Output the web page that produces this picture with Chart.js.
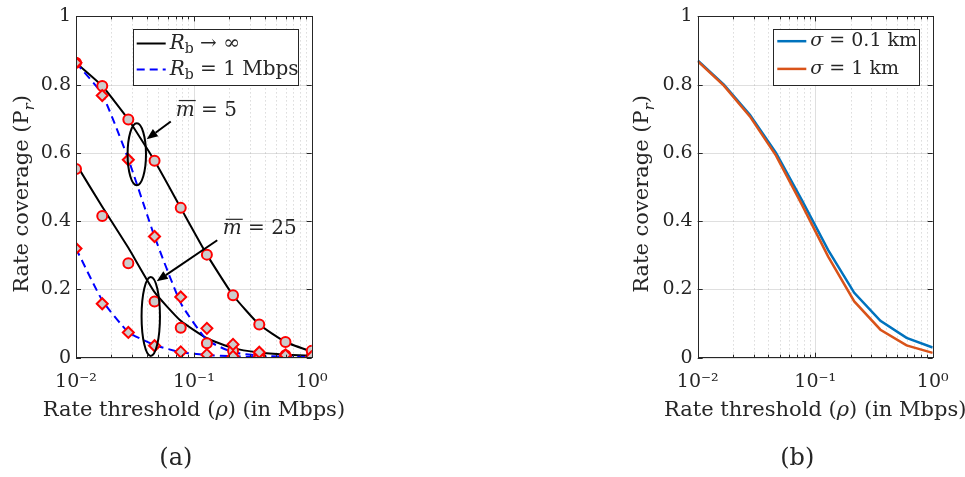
<!DOCTYPE html>
<html>
<head>
<meta charset="utf-8">
<script src="https://cdn.jsdelivr.net/npm/chart.js@4.4.0/dist/chart.umd.min.js"></script>
<style>
  body { margin: 0; background: #fff; }
  #wrap { position: relative; width: 965px; height: 477px; }
  canvas { position: absolute; top: 0; }
</style>
</head>
<body>
<div id="wrap">
  <canvas id="chartA" width="345" height="477" style="left:0"></canvas>
  <canvas id="chartB" width="345" height="477" style="left:620px"></canvas>
</div>
<script>
// rate thresholds (Mbps), same grid for both panels
var rates = [0.01, 0.0167, 0.0278, 0.0464, 0.0774, 0.129, 0.215, 0.359, 0.599, 1]

// (a) analysis curves
var anaInf5  = [0.864, 0.796, 0.698, 0.577, 0.439, 0.302, 0.183, 0.097, 0.046, 0.018]
var anaInf25 = [0.568, 0.442, 0.322, 0.192, 0.108, 0.057, 0.028, 0.015, 0.009, 0.006]
var ana1M5   = [0.864, 0.772, 0.582, 0.355, 0.160, 0.052, 0.016, 0.006, 0.003, 0.002]
var ana1M25  = [0.320, 0.168, 0.075, 0.037, 0.016, 0.008, 0.004, 0.002, 0.001, 0.001]
// (a) simulation markers
var simInf5  = [0.864, 0.796, 0.698, 0.577, 0.439, 0.302, 0.183, 0.097, 0.046, 0.020]
var simInf25 = [0.553, 0.415, 0.277, 0.165, 0.088, 0.042, 0.020, 0.011, 0.007, 0.004]
var sim1M5   = [0.864, 0.768, 0.580, 0.355, 0.178, 0.086, 0.039, 0.016, 0.008, 0.003]
var sim1M25  = [0.320, 0.158, 0.074, 0.035, 0.017, 0.009, 0.004, 0.002, 0.001, 0.001]

// (b)
var sigma01 = [0.871, 0.800, 0.712, 0.600, 0.460, 0.315, 0.190, 0.108, 0.058, 0.030]
var sigma1  = [0.869, 0.797, 0.707, 0.592, 0.447, 0.296, 0.165, 0.082, 0.036, 0.014]

// ticks
var xTickValues = [0.01, 0.1, 1]
var xTickLabels = ['10\u207B\u00B2', '10\u207B\u00B9', '10\u2070']
var yTickValues = [0, 0.2, 0.4, 0.6, 0.8, 1]
var yTickLabels = ['0', '0.2', '0.4', '0.6', '0.8', '1']

var FONT = '"DejaVu Serif", serif'
var INK = '#262626'
var RED = '#ff0000'
var GREY = '#cccccc'

function font(size, italic) {
  return (italic ? 'italic ' : '') + size + 'px ' + FONT
}

function pts(vals) {
  return rates.map(function(r, i) { return { x: r, y: vals[i] } })
}

// draw text made of runs {t, it, sub}
function drawRuns(ctx, runs, x, y, size, align) {
  var w = 0
  runs.forEach(function(r) {
    ctx.font = font(r.sub ? size * 0.7 : size, r.it)
    r.w = ctx.measureText(r.t).width
    w += r.w
  })
  var cx = align === 'center' ? x - w / 2 : x
  ctx.textAlign = 'left'
  runs.forEach(function(r) {
    ctx.font = font(r.sub ? size * 0.7 : size, r.it)
    ctx.fillText(r.t, cx, y + (r.sub ? size * 0.3 : 0))
    cx += r.w
  })
  return w
}

var minorX = []
for (var e = -2; e < 0; e++) {
  for (var k = 2; k <= 9; k++) minorX.push(k * Math.pow(10, e))
}

function line(ctx, x1, y1, x2, y2) {
  ctx.beginPath()
  ctx.moveTo(x1, y1)
  ctx.lineTo(x2, y2)
  ctx.stroke()
}

var framePlugin = {
  id: 'frame',
  beforeDatasetsDraw: function(chart) {
    var ctx = chart.ctx, a = chart.chartArea, x = chart.scales.x, y = chart.scales.y
    ctx.save()
    ctx.lineWidth = 1
    ctx.strokeStyle = 'rgba(38,38,38,0.25)'
    ctx.setLineDash([1, 3])
    minorX.forEach(function(v) {
      var px = Math.round(x.getPixelForValue(v)) + 0.5
      line(ctx, px, a.top, px, a.bottom)
    })
    ctx.setLineDash([])
    ctx.strokeStyle = 'rgba(38,38,38,0.15)'
    xTickValues.forEach(function(v) {
      var px = Math.round(x.getPixelForValue(v)) + 0.5
      line(ctx, px, a.top, px, a.bottom)
    })
    yTickValues.forEach(function(v) {
      var py = Math.round(y.getPixelForValue(v)) + 0.5
      line(ctx, a.left, py, a.right, py)
    })
    ctx.restore()
  },
  afterDraw: function(chart) {
    var ctx = chart.ctx, a = chart.chartArea, x = chart.scales.x, y = chart.scales.y
    ctx.save()
    ctx.strokeStyle = INK
    ctx.lineWidth = 1
    // tick marks inside the box
    xTickValues.forEach(function(v) {
      var px = Math.round(x.getPixelForValue(v)) + 0.5
      line(ctx, px, a.bottom, px, a.bottom - 5)
      line(ctx, px, a.top, px, a.top + 5)
    })
    minorX.forEach(function(v) {
      var px = Math.round(x.getPixelForValue(v)) + 0.5
      line(ctx, px, a.bottom, px, a.bottom - 3)
      line(ctx, px, a.top, px, a.top + 3)
    })
    yTickValues.forEach(function(v) {
      var py = Math.round(y.getPixelForValue(v)) + 0.5
      line(ctx, a.left, py, a.left + 5, py)
      line(ctx, a.right, py, a.right - 5, py)
    })
    ctx.strokeRect(Math.round(a.left) + 0.5, Math.round(a.top) + 0.5,
      Math.round(a.right - a.left), Math.round(a.bottom - a.top))

    // axis titles
    ctx.fillStyle = INK
    ctx.textBaseline = 'alphabetic'
    drawRuns(ctx, [{ t: 'Rate threshold (' }, { t: '\u03C1', it: true }, { t: ') (in Mbps)' }],
      (a.left + a.right) / 2, 416, 21, 'center')
    ctx.save()
    ctx.translate(28, 194)
    ctx.rotate(-Math.PI / 2)
    drawRuns(ctx, [{ t: 'Rate coverage (P' }, { t: 'r', it: true, sub: true }, { t: ')' }], 0, 0, 21, 'center')
    ctx.restore()
    // panel label
    ctx.font = font(24)
    ctx.textAlign = 'center'
    ctx.fillText(chart.options.panel, (a.left + a.right) / 2 - 18, 465)
    ctx.restore()
  }
}

// legend boxes
function legendPlugin(entries, box) {
  return {
    id: 'legendBox',
    afterDraw: function(chart) {
      var ctx = chart.ctx, a = chart.chartArea
      var right = a.right - box.gapRight, top = a.top + box.gapTop
      var left = right - box.w
      ctx.save()
      ctx.fillStyle = '#fff'
      ctx.fillRect(left, top, box.w, box.h)
      ctx.strokeStyle = INK
      ctx.lineWidth = 1
      ctx.strokeRect(Math.round(left) + 0.5, Math.round(top) + 0.5, Math.round(box.w), Math.round(box.h))
      entries.forEach(function(en, i) {
        var cy = top + box.row0 + i * box.rowStep
        ctx.strokeStyle = en.color
        ctx.lineWidth = en.width || 2
        ctx.setLineDash(en.dash || [])
        line(ctx, left + 4, cy, left + 33, cy)
        ctx.setLineDash([])
        ctx.fillStyle = INK
        ctx.textBaseline = 'middle'
        drawRuns(ctx, en.runs, left + 37, cy, box.size, 'left')
      })
      ctx.restore()
    }
  }
}

// (a) annotations, placed in data coordinates
var ellipses = [
  { x: 0.0328, y: 0.596, rx: 9.2, ry: 31 },
  { x: 0.0431, y: 0.121, rx: 9.2, ry: 39.5 }
]
var arrows = [
  { x1: 0.0637, y1: 0.692, x2: 0.0398, y2: 0.640 },
  { x1: 0.158, y1: 0.344, x2: 0.0484, y2: 0.224 }
]
var notes = [
  { x: 0.0702, y: 0.730, m: '5' },
  { x: 0.176, y: 0.382, m: '25' }
]

var notesPlugin = {
  id: 'notes',
  afterDatasetsDraw: function(chart) {
    var ctx = chart.ctx, x = chart.scales.x, y = chart.scales.y
    ctx.save()
    ctx.strokeStyle = '#000'
    ctx.fillStyle = '#000'
    ctx.lineWidth = 2
    ellipses.forEach(function(el) {
      ctx.beginPath()
      ctx.ellipse(x.getPixelForValue(el.x), y.getPixelForValue(el.y), el.rx, el.ry, 0, 0, Math.PI * 2)
      ctx.stroke()
    })
    arrows.forEach(function(ar) {
      var x1 = x.getPixelForValue(ar.x1), y1 = y.getPixelForValue(ar.y1)
      var x2 = x.getPixelForValue(ar.x2), y2 = y.getPixelForValue(ar.y2)
      var ang = Math.atan2(y2 - y1, x2 - x1)
      var hl = 11, hw = 4.5
      var bx = x2 - hl * Math.cos(ang), by = y2 - hl * Math.sin(ang)
      line(ctx, x1, y1, bx, by)
      ctx.beginPath()
      ctx.moveTo(x2, y2)
      ctx.lineTo(bx + hw * Math.sin(ang), by - hw * Math.cos(ang))
      ctx.lineTo(bx - hw * Math.sin(ang), by + hw * Math.cos(ang))
      ctx.closePath()
      ctx.fill()
    })
    ctx.fillStyle = INK
    ctx.textBaseline = 'alphabetic'
    notes.forEach(function(n) {
      var px = x.getPixelForValue(n.x), base = y.getPixelForValue(n.y) + 7
      ctx.font = font(20, true)
      var mw = ctx.measureText('m').width
      drawRuns(ctx, [{ t: 'm', it: true }, { t: ' = ' + n.m }], px, base, 20, 'left')
      ctx.lineWidth = 1.2
      ctx.strokeStyle = INK
      line(ctx, px + 3, base - 15, px + mw + 1, base - 15)
    })
    ctx.restore()
  }
}

function xScale() {
  return {
    type: 'logarithmic',
    min: 0.01,
    max: 1,
    grid: { display: false, drawTicks: false },
    border: { display: false },
    afterBuildTicks: function(s) { s.ticks = xTickValues.map(function(v) { return { value: v } }) },
    afterFit: function(s) { s.height = 119.3 },
    ticks: {
      autoSkip: false,
      maxRotation: 0,
      padding: 13,
      color: INK,
      font: { family: FONT, size: 19 },
      callback: function(v, i) { return xTickLabels[i] }
    }
  }
}

function yScale(width) {
  return {
    type: 'linear',
    min: 0,
    max: 1,
    grid: { display: false, drawTicks: false },
    border: { display: false },
    afterBuildTicks: function(s) { s.ticks = yTickValues.map(function(v) { return { value: v } }) },
    afterFit: function(s) { s.width = width },
    ticks: {
      padding: 5,
      color: INK,
      font: { family: FONT, size: 19 },
      callback: function(v, i) { return yTickLabels[i] }
    }
  }
}

function markerSet(vals, style, radius) {
  return {
    data: pts(vals),
    showLine: false,
    pointStyle: style,
    pointRadius: radius,
    pointBorderWidth: 2,
    pointBorderColor: RED,
    pointBackgroundColor: GREY
  }
}

function curveSet(vals, color, dash) {
  return {
    data: pts(vals),
    borderColor: color,
    borderWidth: 2,
    borderDash: dash || [],
    pointRadius: 0,
    tension: 0.15,
    fill: false
  }
}

Chart.defaults.font.family = FONT

new Chart(document.getElementById('chartA'), {
  type: 'line',
  data: {
    datasets: [
      markerSet(sim1M5, 'rectRot', 5.5),
      markerSet(sim1M25, 'rectRot', 5.5),
      markerSet(simInf5, 'circle', 5),
      markerSet(simInf25, 'circle', 5),
      curveSet(ana1M5, '#0000ff', [8, 5]),
      curveSet(ana1M25, '#0000ff', [8, 5]),
      curveSet(anaInf5, '#000000'),
      curveSet(anaInf25, '#000000')
    ]
  },
  options: {
    responsive: false,
    animation: false,
    panel: '(a)',
    layout: { padding: { top: 10.2, right: 33.3, bottom: 0, left: 0 } },
    plugins: { legend: { display: false }, tooltip: { enabled: false } },
    scales: { x: xScale(), y: yScale(76) }
  },
  plugins: [framePlugin, notesPlugin, legendPlugin([
    { color: '#000000', runs: [{ t: 'R', it: true }, { t: 'b', sub: true }, { t: ' \u2192 \u221E' }] },
    { color: '#0000ff', dash: [8, 5], runs: [{ t: 'R', it: true }, { t: 'b', sub: true }, { t: ' = 1 Mbps' }] }
  ], { gapRight: 14, gapTop: 12.5, w: 165, h: 56.3, row0: 14.6, rowStep: 26, size: 20 })]
})

new Chart(document.getElementById('chartB'), {
  type: 'line',
  data: {
    datasets: [
      { data: pts(sigma1), borderColor: '#D95319', borderWidth: 2.5, pointRadius: 0, tension: 0 },
      { data: pts(sigma01), borderColor: '#0072BD', borderWidth: 2.5, pointRadius: 0, tension: 0 }
    ]
  },
  options: {
    responsive: false,
    animation: false,
    panel: '(b)',
    layout: { padding: { top: 10.2, right: 32.3, bottom: 0, left: 0 } },
    plugins: { legend: { display: false }, tooltip: { enabled: false } },
    scales: { x: xScale(), y: yScale(77.7) }
  },
  plugins: [framePlugin, legendPlugin([
    { color: '#0072BD', width: 2.5, runs: [{ t: '\u03C3', it: true }, { t: ' = 0.1 km' }] },
    { color: '#D95319', width: 2.5, runs: [{ t: '\u03C3', it: true }, { t: ' = 1 km' }] }
  ], { gapRight: 13.4, gapTop: 12.5, w: 146, h: 56.3, row0: 12.3, rowStep: 27.7, size: 19 })]
})
</script>
</body>
</html>
